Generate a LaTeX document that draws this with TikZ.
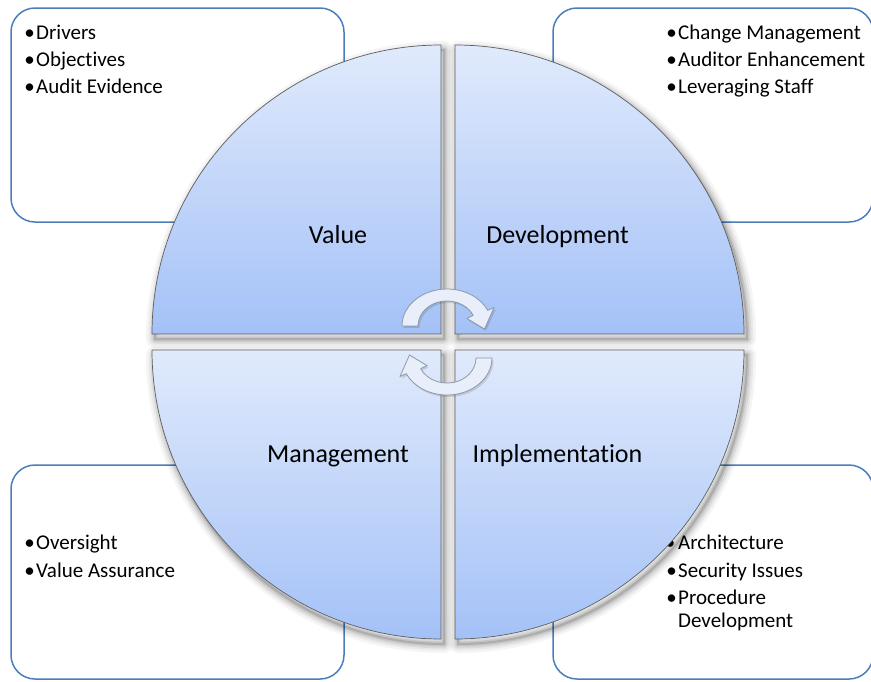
\documentclass[tikz,border=0pt]{standalone}
\usepackage{fontspec}
\setmainfont{Carlito}[Ligatures=NoCommon]
\usetikzlibrary{calc}
\definecolor{boxblue}{HTML}{4A7EBB}
\definecolor{qtop}{HTML}{E0EAFC}
\definecolor{qbot}{HTML}{A4C1F7}
\definecolor{qline}{HTML}{5E5E5E}
\definecolor{arrfill}{HTML}{E8EEFA}
\definecolor{arrline}{HTML}{8E98A6}
\tikzset{
  box/.style={draw=boxblue, line width=1.5pt, fill=white, rounded corners=24pt, inner sep=0pt},
  bul/.style={anchor=base, inner sep=0pt, font=\fontsize{21}{25}\selectfont},
  itm/.style={anchor=base west, inner sep=0pt, font=\fontsize{21}{25}\selectfont},
  lbl/.style={anchor=base, inner sep=0pt, font=\fontsize{26}{30}\selectfont},
  quad/.style={draw=qline, line width=0.7pt, top color=qtop, bottom color=qbot},
  shad/.style={draw=black, line join=round, fill=none},
  cyc/.style={fill=arrfill, draw=arrline, line width=0.8pt, line join=round}
}
\newcommand\pathTL{(441,334) -- (152,334) arc[start angle=180,end angle=270,radius=289] -- cycle}
\newcommand\pathTR{(455,334) -- (455,45) arc[start angle=270,end angle=360,radius=289] -- cycle}
\newcommand\pathBL{(441,350) -- (441,639) arc[start angle=90,end angle=180,radius=289] -- cycle}
\newcommand\pathBR{(455,350) -- (744,350) arc[start angle=0,end angle=90,radius=289] -- cycle}
\newcommand\pathArrow{(402,326) arc[start angle=180,end angle=335,x radius=45,y radius=37]
   -- (494.1,307.4) -- (484.5,329) -- (466.9,318.4) -- (473.3,315.4)
   arc[start angle=335,end angle=180,x radius=29,y radius=25] -- cycle}
\begin{document}
\begin{tikzpicture}[x=1pt,y=-1pt]
\useasboundingbox (0,0) rectangle (871,681);
\clip (0,0) rectangle (871,681);
% corner boxes
\node[box, minimum width=333pt, minimum height=214pt] (boxTL) at (177.5,115) {};
\node[box, minimum width=320pt, minimum height=214pt] (boxTR) at (713,115) {};
\node[box, minimum width=333pt, minimum height=214pt] (boxBL) at (177.5,572) {};
\node[box, minimum width=320pt, minimum height=214pt] (boxBR) at (713,572) {};
% box texts
\node[bul] (tlb1) at (29.5,39) {•}; \node[itm] (tl1) at (36,39) {Drivers};
\node[bul] (tlb2) at (29.5,66) {•}; \node[itm] (tl2) at (36,66) {Objectives};
\node[bul] (tlb3) at (29.5,93) {•}; \node[itm] (tl3) at (36,93) {Audit Evidence};
\node[bul] (trb1) at (671.5,39) {•}; \node[itm] (tr1) at (678,39) {Change Management};
\node[bul] (trb2) at (671.5,66) {•}; \node[itm] (tr2) at (678,66) {Auditor Enhancement};
\node[bul] (trb3) at (671.5,93) {•}; \node[itm] (tr3) at (678,93) {Leveraging Staff};
\node[bul] (blb1) at (29.5,549) {•}; \node[itm] (bl1) at (36,549) {Oversight};
\node[bul] (blb2) at (29.5,577) {•}; \node[itm] (bl2) at (36,577) {Value Assurance};
\node[bul] (brb1) at (670,549) {•}; \node[itm] (br1) at (678,549) {Architecture};
\node[bul] (brb2) at (671.5,577) {•}; \node[itm] (br2) at (678,577) {Security Issues};
\node[bul] (brb3) at (671.5,604) {•}; \node[itm] (br3) at (678,604) {Procedure};
\node[itm] (br4) at (678,627) {Development};
% shadows of the quadrants
\begin{scope}[shift={(3,5)}]
\foreach \w/\o in {18/0.04, 13/0.05, 9/0.07, 5/0.09, 2/0.12}{
  \draw[shad, line width=\w pt, opacity=\o] \pathTL;
  \draw[shad, line width=\w pt, opacity=\o] \pathTR;
  \draw[shad, line width=\w pt, opacity=\o] \pathBL;
  \draw[shad, line width=\w pt, opacity=\o] \pathBR;
}
\end{scope}
% quadrants
\path[quad] \pathTL;
\path[quad] \pathTR;
\path[quad] \pathBL;
\path[quad] \pathBR;
% labels
\node[lbl] (value) at (338,243) {Value};
\node[lbl] (dev) at (557.5,243) {Development};
\node[lbl] (mgmt) at (338,462) {Management};
\node[lbl] (impl) at (557.5,462) {Implementation};
% cycle arrows
\begin{scope}[shift={(1.5,2)}]
\fill[black, opacity=0.12] \pathArrow;
\fill[black, opacity=0.12, rotate around={180:(447,342)}] \pathArrow;
\end{scope}
\path[cyc] \pathArrow;
\path[cyc, rotate around={180:(447,342)}] \pathArrow;
\end{tikzpicture}
\end{document}
